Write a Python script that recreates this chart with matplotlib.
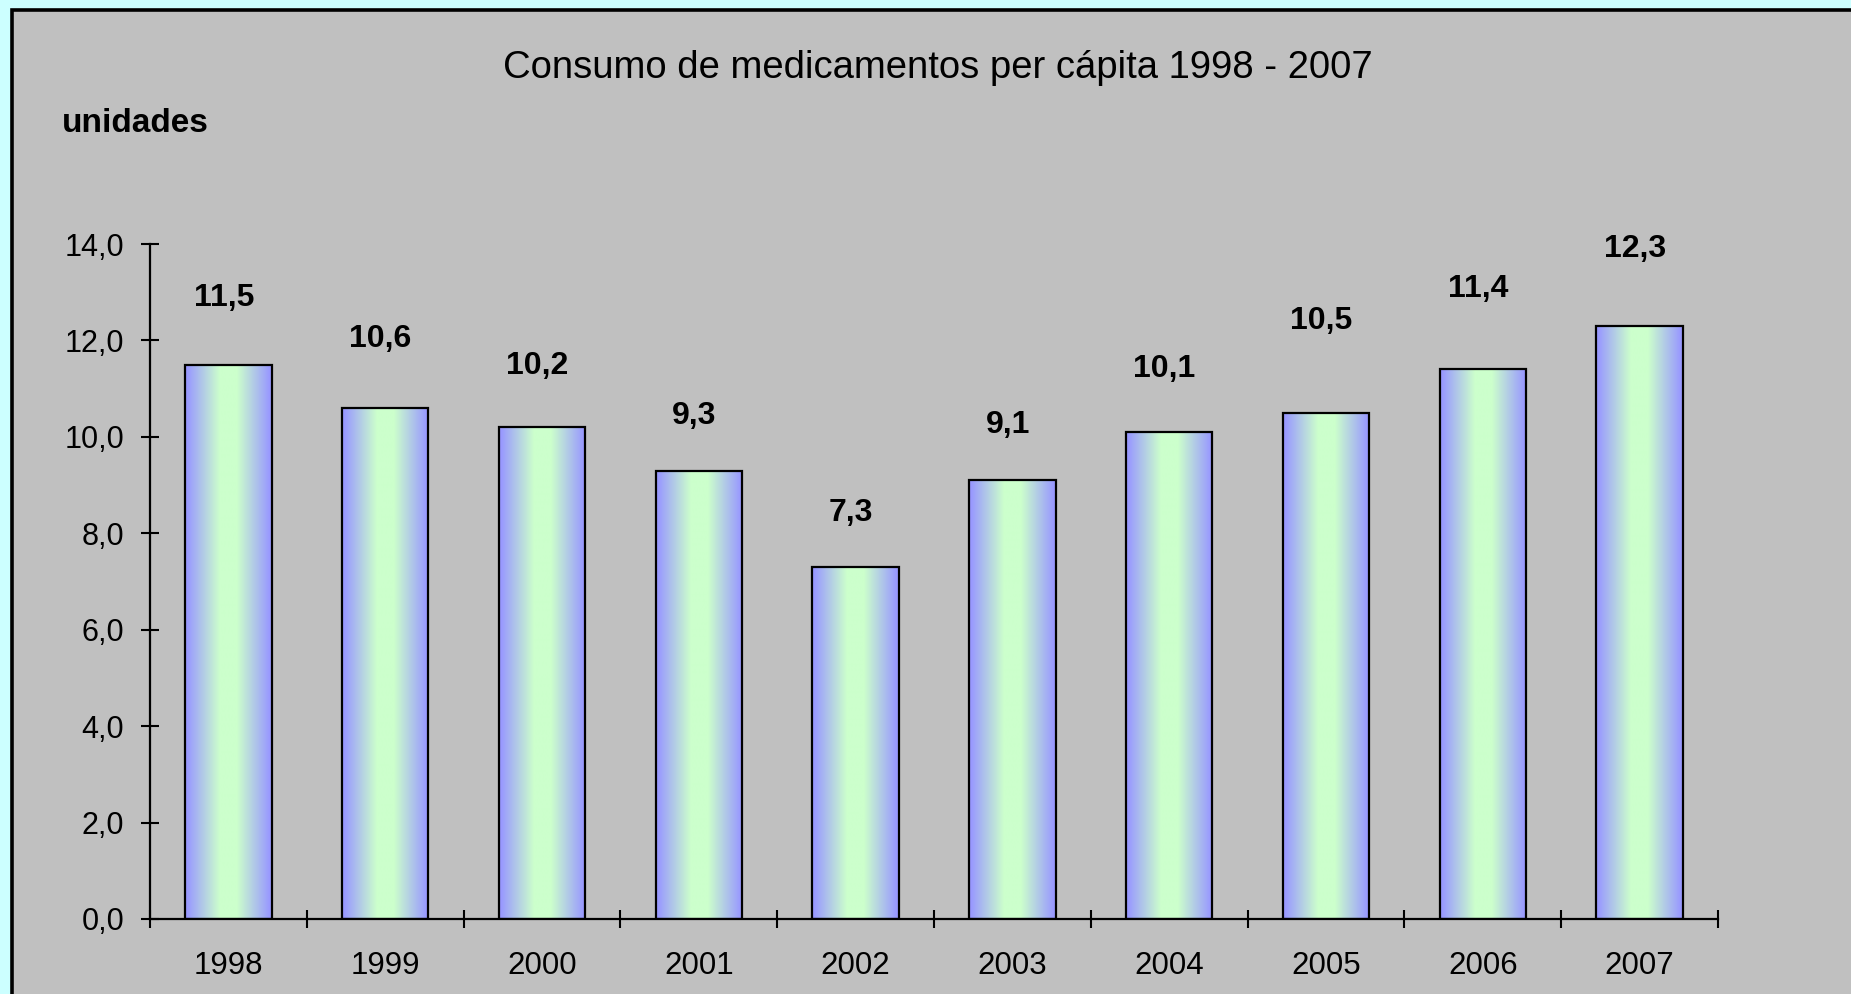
import numpy as np
import matplotlib
matplotlib.use("Agg")
import matplotlib.pyplot as plt
from matplotlib.patches import Rectangle
from matplotlib.ticker import FuncFormatter, MultipleLocator

plt.rcParams['font.family'] = ['Liberation Sans', 'DejaVu Sans']

# data
years = ['1998', '1999', '2000', '2001', '2002', '2003', '2004', '2005', '2006', '2007']
consumo = [11.5, 10.6, 10.2, 9.3, 7.3, 9.1, 10.1, 10.5, 11.4, 12.3]
# how far each value label sits above its bar (labels were hand placed)
label_lift = [1.37, 1.42, 1.28, 1.13, 1.12, 1.15, 1.30, 1.91, 1.67, 1.60]

W, H = 1851, 994
fig = plt.figure(figsize=(W / 100, H / 100), dpi=100)
fig.patch.set_facecolor('#CCFFFF')

# grey chart area with black border (runs off the right and bottom)
panel = Rectangle((11.5 / W, -0.1), 1.2, 1.1 - 10 / H, transform=fig.transFigure,
                  facecolor='#C0C0C0', edgecolor='black', lw=2.6, zorder=-10)
fig.patches.append(panel)

ax = fig.add_axes([150 / W, 75 / H, 1568 / W, 675 / H])
ax.set_facecolor('none')

x = np.arange(len(years))
bars = ax.bar(x, consumo, width=0.55, facecolor='none', edgecolor='black', lw=1.6, zorder=3)

# horizontal gradient: blue at the edges, pale green in the middle
t = np.abs(np.linspace(-1, 1, 256))
t = np.clip((t - 0.2) / 0.75, 0, 1)
blue = np.array([0.60, 0.60, 1.0])
green = np.array([0.80, 1.0, 0.80])
grad = (green[None, :] * (1 - t[:, None]) + blue[None, :] * t[:, None])[None, :, :]

for b in bars:
    x0, y0 = b.get_x(), b.get_y()
    ax.imshow(grad, extent=(x0, x0 + b.get_width(), y0, y0 + b.get_height()),
              aspect='auto', zorder=2, interpolation='bilinear')

for xi, v, lift in zip(x, consumo, label_lift):
    ax.text(xi - 0.03, v + lift, f'{v:.1f}'.replace('.', ','), ha='center', va='center',
            fontsize=23, fontweight='bold')

ax.set_xlim(-0.5, len(years) - 0.5)
ax.set_ylim(0, 14)
ax.yaxis.set_major_locator(MultipleLocator(2))
ax.yaxis.set_major_formatter(FuncFormatter(lambda v, p: f'{v:.1f}'.replace('.', ',')))

ax.set_xticks(x)
ax.set_xticklabels(years)
ax.set_xticks(np.arange(-0.5, len(years)), minor=True)
ax.tick_params(axis='x', which='major', length=0, pad=23, labelsize=22.5)
ax.tick_params(axis='x', which='minor', direction='inout', length=13, width=1.5)
ax.tick_params(axis='y', direction='inout', length=13, width=1.5, pad=12, labelsize=22)

for s in ['top', 'right']:
    ax.spines[s].set_visible(False)
for s in ['left', 'bottom']:
    ax.spines[s].set_linewidth(1.6)

fig.text(938 / W, 1 - 68 / H, 'Consumo de medicamentos per cápita 1998 - 2007',
         ha='center', va='center', fontsize=27.5)
fig.text(62 / W, 1 - 124 / H, 'unidades', ha='left', va='center',
         fontsize=24, fontweight='bold')

fig.savefig('out.png', dpi=100, facecolor=fig.get_facecolor())
